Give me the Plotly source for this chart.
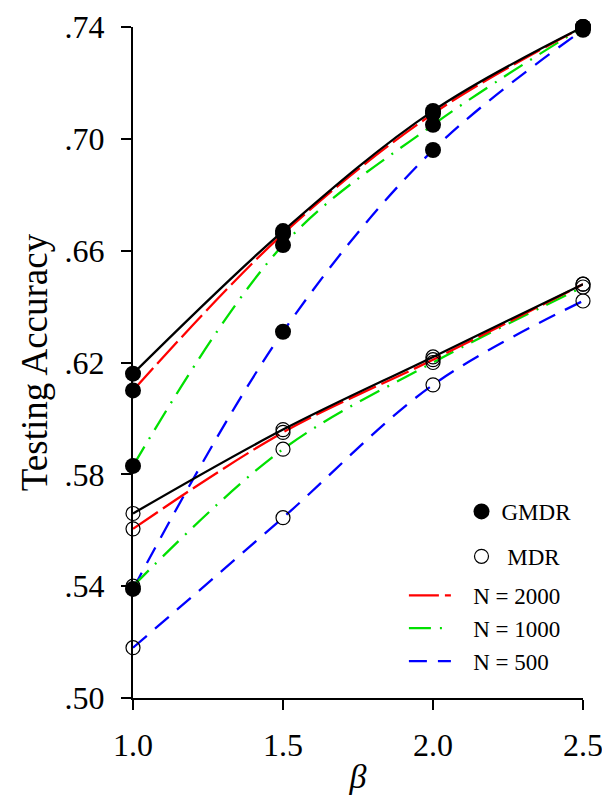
import plotly.graph_objects as go

# Effect size on the x axis
beta = [1.0, 1.5, 2.0, 2.5]

# Testing accuracy, GMDR (filled markers)
gmdr_black = [0.616, 0.667, 0.710, 0.740]
gmdr_n2000 = [0.610, 0.666, 0.709, 0.740]
gmdr_n1000 = [0.583, 0.662, 0.705, 0.740]
gmdr_n500 = [0.539, 0.631, 0.696, 0.739]

# Testing accuracy, MDR (open markers)
mdr_black = [0.566, 0.596, 0.622, 0.648]
mdr_n2000 = [0.5605, 0.595, 0.621, 0.648]
mdr_n1000 = [0.540, 0.589, 0.620, 0.647]
mdr_n500 = [0.518, 0.5645, 0.612, 0.642]

y_ticks = [0.50, 0.54, 0.58, 0.62, 0.66, 0.70, 0.74]
y_tick_text = [".50", ".54", ".58", ".62", ".66", ".70", ".74"]
x_ticks = [1.0, 1.5, 2.0, 2.5]
x_tick_text = ["1.0", "1.5", "2.0", "2.5"]

FONT = "Liberation Serif, Times New Roman, serif"
PAD = "\u00a0" * 3  # gap between legend line sample and its label

line_styles = [
    # (name, colour, dash, gmdr values, mdr values, in legend)
    ("all", "black", "solid", gmdr_black, mdr_black, False),
    ("N = 2000", "red", "30px,6px", gmdr_n2000, mdr_n2000, True),
    ("N = 1000", "#00e000", "22px,9px,2px,9px", gmdr_n1000, mdr_n1000, True),
    ("N = 500", "blue", "18px,11px", gmdr_n500, mdr_n500, True),
]

fig = go.Figure()

# Smoothed curves: draw N=500 first so the black curve sits on top
for name, colour, dash, g_vals, m_vals, in_legend in reversed(line_styles):
    for i, vals in enumerate((g_vals, m_vals)):
        fig.add_trace(go.Scatter(
            x=beta, y=vals, mode="lines",
            line=dict(color=colour, width=2.3, dash=dash, shape="spline", smoothing=1.0),
            name=PAD + name, legend="legend2",
            showlegend=in_legend and i == 0,
            cliponaxis=True,
        ))

# Markers on top of the curves
for idx, (name, colour, dash, g_vals, m_vals, in_legend) in enumerate(line_styles):
    fig.add_trace(go.Scatter(
        x=beta, y=g_vals, mode="markers",
        marker=dict(symbol="circle", size=16, color="black"),
        name="GMDR", legend="legend", legendgroup="gmdr",
        showlegend=(idx == 0), cliponaxis=False,
    ))
    fig.add_trace(go.Scatter(
        x=beta, y=m_vals, mode="markers",
        marker=dict(symbol="circle-open", size=14, color="black", line=dict(width=1.2)),
        name="\u00a0MDR", legend="legend", legendgroup="mdr",
        showlegend=(idx == 0), cliponaxis=False,
    ))

fig.update_layout(
    width=602, height=809,
    margin=dict(l=133, r=19, t=27, b=111),
    paper_bgcolor="white", plot_bgcolor="white",
    font=dict(family=FONT, color="black", size=30),
    xaxis=dict(
        range=[1.0, 2.5], tickvals=x_ticks, ticktext=x_tick_text,
        showline=True, linecolor="black", linewidth=2,
        ticks="outside", ticklen=10, tickwidth=2, tickcolor="black",
        showgrid=False, zeroline=False, ticklabelstandoff=8,
        ticklabeloverflow="allow", automargin=False,
        tickfont=dict(size=32, family=FONT),
        title=dict(text="<i>β</i>", font=dict(size=34, family=FONT), standoff=2),
    ),
    yaxis=dict(
        range=[0.50, 0.74], tickvals=y_ticks, ticktext=y_tick_text,
        showline=True, linecolor="black", linewidth=2,
        ticks="outside", ticklen=10, tickwidth=2, tickcolor="black",
        showgrid=False, zeroline=False, ticklabelstandoff=10,
        automargin=False,
        tickfont=dict(size=32, family=FONT),
        title=dict(text="Testing Accuracy", font=dict(size=37, family=FONT), standoff=6),
    ),
    legend=dict(
        x=0.73, y=0.31, xanchor="left", yanchor="top",
        bgcolor="rgba(0,0,0,0)", font=dict(size=23, family=FONT),
        itemwidth=30, tracegroupgap=12,
    ),
    legend2=dict(
        x=0.602, y=0.185, xanchor="left", yanchor="top",
        bgcolor="rgba(0,0,0,0)", font=dict(size=23, family=FONT),
        itemwidth=42, tracegroupgap=0, traceorder="reversed",
    ),
    showlegend=True,
)

fig.write_html("out.html")
